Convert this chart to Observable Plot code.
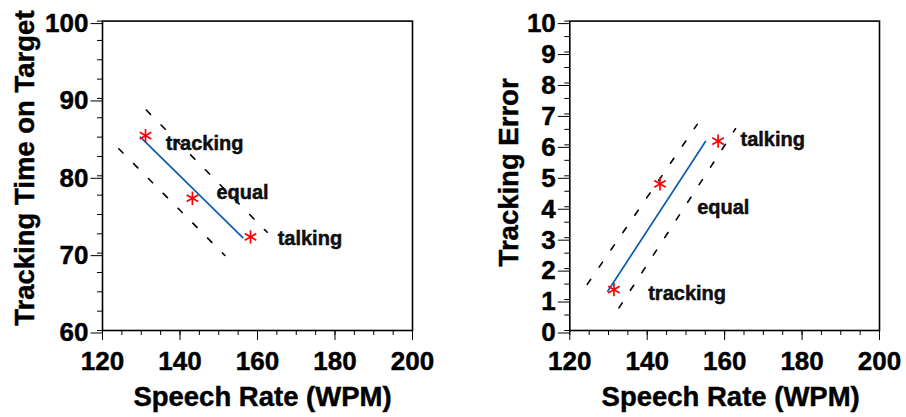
<!DOCTYPE html>
<html>
<head>
<meta charset="utf-8">
<script src="https://cdn.jsdelivr.net/npm/d3@7"></script>
<script src="https://cdn.jsdelivr.net/npm/@observablehq/plot@0.6"></script>
<style>
  html, body { margin: 0; padding: 0; background: white; overflow: hidden; }
  #wrap { position: relative; width: 906px; height: 417px; }
  #title { position: absolute; left: 387px; top: -26.5px; font: bold 27px/27px "Liberation Sans", Arial, sans-serif; white-space: nowrap; -webkit-text-stroke: 0.4px black; }
  #left, #right { position: absolute; top: 0; }
  #left { left: 0; }
  #right { left: 453px; }
  #wrap svg text { stroke: currentColor; stroke-width: 0.45px; }
</style>
</head>
<body>
<div id="wrap">
  <div id="title">Tracking</div>
  <div id="left"></div>
  <div id="right"></div>
</div>
<script>
// ---- data ----
const conditions = ["tracking", "equal", "talking"];
const xTicks = [120, 140, 160, 180, 200];
const leftYTicks = [60, 70, 80, 90, 100];
const rightYTicks = [0, 1, 2, 3, 4, 5, 6, 7, 8, 9, 10];

// Left panel: tracking time on target
const leftSpeech = [131.1, 143.2, 158.2];
const leftTime = [85.2, 77.1, 72.1];
const leftFitX = [129.8, 156.2];
const leftFitY = [85.0, 72.0];
const leftUpperX = [131.3, 162.5];
const leftUpperY = [88.5, 72.7];
const leftLowerX = [124.2, 151.6];
const leftLowerY = [83.5, 69.7];
const leftLabelX = [136.3, 149.4, 165.2];
const leftLabelY = [83.3, 77.0, 71.1];

// Right panel: tracking error
const rightSpeech = [131.4, 143.3, 158.3];
const rightError = [1.32, 4.74, 6.12];
const rightFitX = [129.8, 155.05];
const rightFitY = [1.27, 6.11];
const rightUpperX = [124.5, 152.9];
const rightUpperY = [1.49, 6.66];
const rightLowerX = [132.7, 162.8];
const rightLowerY = [0.73, 6.52];
const rightLabelX = [140.25, 152.9, 164.1];
const rightLabelY = [0.99, 3.75, 5.95];

// ---- helpers ----
const FONT = "'Liberation Sans', Arial, Helvetica, sans-serif";
const pts = (xs, ys) => xs.map((x, i) => ({x, y: ys[i]}));
const xMinor = d3.range(120, 201, 5);

function panel({el, yDomain, yTicks, yMinor, yLabel, ml, mr, ylDx, ylDy, xlDx,
                speech, values, fitX, fitY, upX, upY, loX, loY, labX, labY}) {
  const pointsData = speech.map((s, i) => ({x: s, y: values[i], c: conditions[i]}));
  const labelData = labX.map((x, i) => ({x, y: labY[i], c: conditions[i]}));
  const chart = Plot.plot({
    width: 453,
    height: 417,
    marginLeft: ml,
    marginRight: mr,
    marginTop: 20.6,
    marginBottom: 87,
    style: {fontFamily: FONT, fontWeight: "bold", background: "white", color: "black"},
    x: {domain: [120, 200]},
    y: {domain: yDomain},
    marks: [
      Plot.axisX(xMinor, {tickSize: 5, text: null, label: null}),
      Plot.axisX(xTicks, {tickSize: 10, tickPadding: 11.5, fontSize: 26, fontWeight: "bold", fontFamily: FONT, label: null}),
      Plot.axisY(yMinor, {tickSize: 5, text: null, label: null}),
      Plot.axisY(yTicks, {tickSize: 11.5, tickPadding: 2.5, dy: 2.5, fontSize: 26, fontWeight: "bold", fontFamily: FONT, label: null}),
      Plot.line(pts(upX, upY), {x: "x", y: "y", stroke: "black", strokeWidth: 1.6, strokeDasharray: "6,15"}),
      Plot.line(pts(loX, loY), {x: "x", y: "y", stroke: "black", strokeWidth: 1.6, strokeDasharray: "6,15"}),
      Plot.line(pts(fitX, fitY), {x: "x", y: "y", stroke: "#0b5cb0", strokeWidth: 1.7}),
      Plot.dot(pointsData, {x: "x", y: "y", symbol: "asterisk", r: 6.3, stroke: "#ff0000", strokeWidth: 1.7}),
      Plot.text(labelData, {x: "x", y: "y", text: "c", textAnchor: "start", lineAnchor: "bottom", fontSize: 20, fontWeight: "bold", fontFamily: FONT, fill: "#111"}),
      Plot.text([yLabel], {frameAnchor: "left", rotate: -90, dx: ylDx, dy: ylDy, lineAnchor: "bottom", textAnchor: "middle", fontSize: 27.5, fontWeight: "bold", fontFamily: FONT, fill: "black"}),
      Plot.text(["Speech Rate (WPM)"], {frameAnchor: "bottom", dx: xlDx, dy: 75, lineAnchor: "bottom", textAnchor: "middle", fontSize: 27.5, fontWeight: "bold", fontFamily: FONT, fill: "black"}),
      Plot.frame({stroke: "black", strokeWidth: 1.6})
    ]
  });
  document.getElementById(el).appendChild(chart);
}

panel({
  el: "left", yDomain: [60, 100], yTicks: leftYTicks, yMinor: d3.range(60, 100.1, 2.5),
  yLabel: "Tracking Time on Target", ml: 102, mr: 41, ylDx: -68.5, ylDy: -7.7, xlDx: 5,
  speech: leftSpeech, values: leftTime, fitX: leftFitX, fitY: leftFitY,
  upX: leftUpperX, upY: leftUpperY, loX: leftLowerX, loY: leftLowerY,
  labX: leftLabelX, labY: leftLabelY
});

panel({
  el: "right", yDomain: [0, 10], yTicks: rightYTicks, yMinor: d3.range(0, 10.01, 0.5),
  yLabel: "Tracking Error", ml: 116.3, mr: 27, ylDx: -52.3, ylDy: -3.4, xlDx: 6,
  speech: rightSpeech, values: rightError, fitX: rightFitX, fitY: rightFitY,
  upX: rightUpperX, upY: rightUpperY, loX: rightLowerX, loY: rightLowerY,
  labX: rightLabelX, labY: rightLabelY
});
</script>
</body>
</html>
